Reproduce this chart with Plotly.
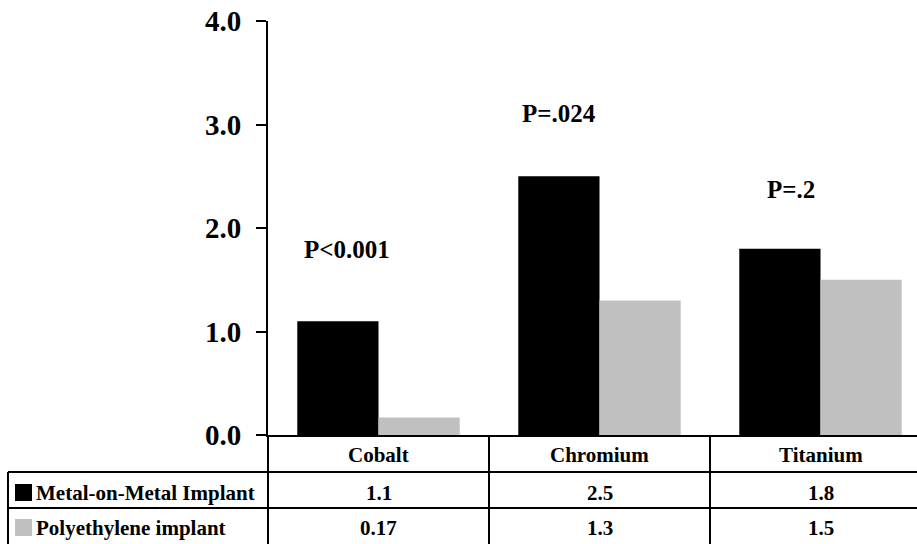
import plotly.graph_objects as go

# Metal ion levels by implant type
categories = ["Cobalt", "Chromium", "Titanium"]
series_names = ["Metal-on-Metal Implant", "Polyethylene implant"]
metal_on_metal = [1.1, 2.5, 1.8]
polyethylene = [0.17, 1.3, 1.5]
value_labels_mom = ["1.1", "2.5", "1.8"]
value_labels_poly = ["0.17", "1.3", "1.5"]
p_values = ["P<0.001", "P=.024", "P=.2"]
p_label_x = [-0.143, 0.817, 1.867]
p_label_y = [1.79, 3.11, 2.37]
y_ticks = [0, 1, 2, 3, 4]

W, H = 917, 544
L, R, T, B = 268, 0, 21, 109
PW, PH = W - L - R, H - T - B
FONT = "Liberation Serif"
colors = ["#000000", "#C0C0C0"]


def px(x):
    return (x - L) / PW


def py(y):
    return (H - B - y) / PH


fig = go.Figure()
for name, vals, col in zip(series_names, [metal_on_metal, polyethylene], colors):
    fig.add_trace(go.Bar(x=categories, y=vals, name=name, marker_color=col,
                         marker_line_width=0, showlegend=False))

shapes = []
annotations = []
line = dict(color="black", width=2)

# table grid
row_tops = [472, 508]
for yy in row_tops:
    shapes.append(dict(type="line", xref="paper", yref="paper",
                       x0=px(8), x1=px(W + 5), y0=py(yy), y1=py(yy), line=line))
shapes.append(dict(type="line", xref="paper", yref="paper",
                   x0=px(8), x1=px(8), y0=py(472), y1=py(H + 5), line=line))
shapes.append(dict(type="line", xref="paper", yref="paper",
                   x0=0, x1=0, y0=0, y1=py(H + 5), line=line))
for xb in [0.5, 1.5]:
    shapes.append(dict(type="line", xref="x", yref="paper",
                       x0=xb, x1=xb, y0=0, y1=py(H + 5), line=line))

# legend swatches
for (y0, y1), col in zip([(484, 501), (519, 536)], colors):
    shapes.append(dict(type="rect", xref="paper", yref="paper",
                       x0=px(15), x1=px(32), y0=py(y1), y1=py(y0),
                       fillcolor=col, line_width=0))

tfont = dict(family=FONT, size=21, color="black", weight="bold")
for name, yc in zip(series_names, [493, 528]):
    annotations.append(dict(text=name, xref="paper", yref="paper",
                            x=px(34), y=py(yc), xanchor="left", yanchor="middle",
                            showarrow=False, font=tfont))

row_centers = [455, 493, 528]
for i, cat in enumerate(categories):
    for text, yc in zip([cat, value_labels_mom[i], value_labels_poly[i]], row_centers):
        annotations.append(dict(text=text, xref="x", yref="paper",
                                x=cat, y=py(yc), xanchor="center", yanchor="middle",
                                showarrow=False, font=tfont))

# significance labels
for i, txt in enumerate(p_values):
    annotations.append(dict(text=txt, xref="x", yref="y",
                            x=p_label_x[i], y=p_label_y[i],
                            xanchor="center", yanchor="middle", showarrow=False,
                            font=dict(family=FONT, size=25, color="black", weight="bold")))

fig.update_layout(
    width=W, height=H,
    margin=dict(l=L, r=R, t=T, b=B, pad=0),
    paper_bgcolor="white", plot_bgcolor="white",
    barmode="group", bargap=0.265, bargroupgap=0,
    shapes=shapes, annotations=annotations,
    xaxis=dict(type="category", range=[-0.5, -0.5 + PW / 221.0],
               showticklabels=False, ticks="", showgrid=False,
               showline=True, linecolor="black", linewidth=2, zeroline=False,
               fixedrange=True),
    yaxis=dict(range=[0, 4], tickvals=y_ticks, tickformat=".1f",
               ticks="outside", ticklen=10, tickwidth=2, tickcolor="black",
               ticklabelstandoff=9,
               showline=True, linecolor="black", linewidth=2,
               showgrid=False, zeroline=False,
               tickfont=dict(family=FONT, size=29, color="black", weight="bold")),
)

fig.write_html("out.html")
